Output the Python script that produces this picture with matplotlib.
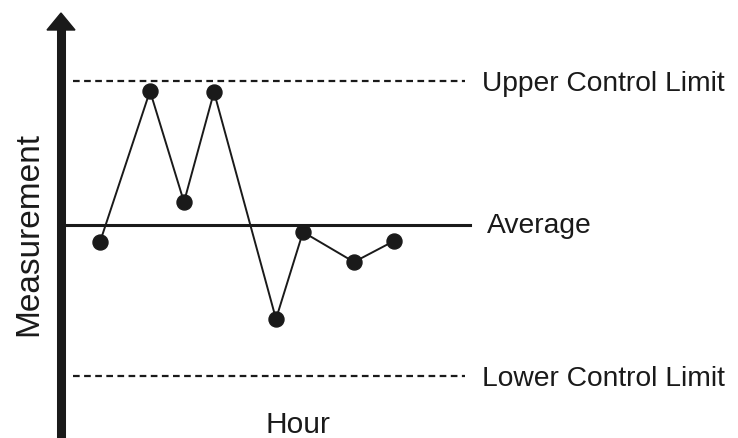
import matplotlib
matplotlib.use("Agg")
import matplotlib.pyplot as plt

hours = [100, 150, 184, 214, 276, 303, 354, 394]
measurements = [196, 347, 236, 346, 119, 206, 176, 197]
average = 213
ucl = 357
lcl = 62
labels = ["Upper Control Limit", "Average", "Lower Control Limit"]
x_label = "Hour"
y_label = "Measurement"

ink = "#1a1a1a"
font = ["Liberation Sans", "DejaVu Sans"]

fig = plt.figure(figsize=(7.38, 4.38), dpi=100)
ax = fig.add_axes([0, 0, 1, 1])
ax.set_xlim(0, 738)
ax.set_ylim(0, 438)
ax.axis("off")

# vertical axis arrow
ax.plot([61, 61], [-5, 410], color=ink, lw=6.5, solid_capstyle="butt", zorder=3)
ax.fill([47, 75, 61], [408, 408, 425], color=ink, zorder=3)

# control limits and average
ax.plot([73, 465], [ucl, ucl], color=ink, lw=1.6, dashes=(3, 2))
ax.plot([73, 465], [lcl, lcl], color=ink, lw=1.6, dashes=(3, 2))
ax.plot([61, 470], [average, average], color=ink, lw=2.2)

# data
ax.plot(hours, measurements, color=ink, lw=1.4, marker="o", markersize=10.8,
        markerfacecolor=ink, markeredgecolor=ink, zorder=4)

ax.text(482, ucl - 10, labels[0], fontsize=20.3, family=font, color=ink, va="baseline", ha="left")
ax.text(487, average - 8, labels[1], fontsize=20.3, family=font, color=ink, va="baseline", ha="left")
ax.text(482, lcl - 10, labels[2], fontsize=20.3, family=font, color=ink, va="baseline", ha="left")
ax.text(298, 5, x_label, fontsize=21.5, family=font, color=ink, va="baseline", ha="center")
ax.text(29, 204, y_label, fontsize=24, family=font, color=ink, va="center", ha="center", rotation=90)

fig.savefig("out.png", dpi=100)
